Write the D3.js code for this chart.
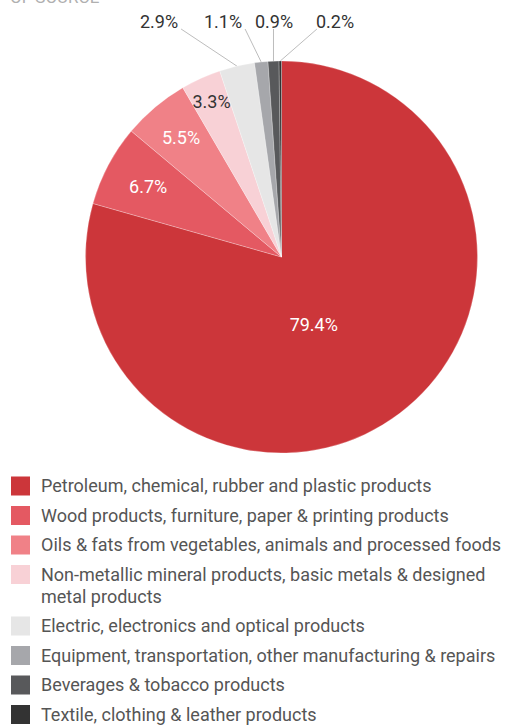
<!DOCTYPE html>
<html>
<head>
<meta charset="utf-8">
<script src="https://cdn.jsdelivr.net/npm/d3@7"></script>
<style>
  html, body { margin: 0; padding: 0; background: #fff; }
  svg { display: block; font-family: Roboto, "Noto Sans", sans-serif; }
</style>
</head>
<body>
<svg id="chart" width="510" height="725"></svg>
<script>
// ---- data ----
const categories = [
  "Petroleum, chemical, rubber and plastic products",
  "Wood products, furniture, paper & printing products",
  "Oils & fats from vegetables, animals and processed foods",
  "Non-metallic mineral products, basic metals & designed metal products",
  "Electric, electronics and optical products",
  "Equipment, transportation, other manufacturing & repairs",
  "Beverages & tobacco products",
  "Textile, clothing & leather products"
];
const values = [79.4, 6.7, 5.5, 3.3, 2.9, 1.1, 0.9, 0.2];
const colors = ["#cc363a", "#e45962", "#f08187", "#f8d1d6", "#e6e6e6", "#a6a7ab", "#58595b", "#333333"];
const titleText = "OF SOURCE";

// ---- layout / style ----
const svg = d3.select("#chart");
const W = 510;
const cx = 281.5, cy = 257, R = 196;
const fontSize = 18;

svg.append("text")
  .attr("x", 10).attr("y", 3)
  .attr("fill", "#b0b0b0")
  .attr("font-size", 17)
  .text(titleText);

const pie = d3.pie().sort(null).value(d => d);
const arcs = pie(values);
const arc = d3.arc().innerRadius(0).outerRadius(R);

const g = svg.append("g").attr("transform", `translate(${cx},${cy})`);
g.selectAll("path.slice")
  .data(arcs)
  .join("path")
  .attr("class", "slice")
  .attr("d", arc)
  .attr("fill", (d, i) => colors[i])
  .attr("stroke", "#ffffff")
  .attr("stroke-opacity", 0.5)
  .attr("stroke-width", 0.5);

// inside labels (first four slices)
const insideCfg = [
  { r: 0.383, da: 11.6, fill: "#ffffff" },
  { r: 0.77, da: 0, fill: "#ffffff" },
  { r: 0.795, da: 0, fill: "#ffffff" },
  { r: 0.868, da: 0, fill: "#333333" }
];
// outside labels (last four slices)
const outsideX = [159, 223, 274, 335];
const outsideY = 22;

const fmt = v => d3.format(".1f")(v) + "%";

arcs.forEach((d, i) => {
  const mid = (d.startAngle + d.endAngle) / 2;
  if (i < 4) {
    const c = insideCfg[i];
    const [x, y] = d3.pointRadial(mid + c.da * Math.PI / 180, R * c.r);
    g.append("text")
      .attr("x", x).attr("y", y)
      .attr("dy", "0.35em")
      .attr("text-anchor", "middle")
      .attr("font-size", fontSize)
      .attr("fill", c.fill)
      .text(fmt(values[i]));
  } else {
    const k = i - 4;
    const tx = outsideX[k];
    const t = svg.append("text")
      .attr("x", tx).attr("y", outsideY)
      .attr("dy", "0.35em")
      .attr("text-anchor", "middle")
      .attr("font-size", fontSize)
      .attr("fill", "#333333")
      .text(fmt(values[i]));
    const bb = t.node().getBBox();
    const [px, py] = d3.pointRadial(mid, R);
    const ax = cx + px, ay = cy + py;
    const lx = Math.max(bb.x + 1, Math.min(bb.x + bb.width + 3, ax));
    svg.insert("line", "g")
      .attr("x1", lx).attr("y1", 29)
      .attr("x2", ax).attr("y2", ay)
      .attr("stroke", "#bdbdbd")
      .attr("stroke-width", 1);
  }
});

// ---- legend ----
const legend = svg.append("g");
const lx0 = 11, sw = 19, tx0 = 41;
const lineH = 22, rowGap = 29.5;
let rowY = 486; // center of first line of row
const maxW = W - tx0 - 1;

categories.forEach((name, i) => {
  legend.append("rect")
    .attr("x", lx0).attr("y", rowY - sw / 2)
    .attr("width", sw).attr("height", sw)
    .attr("fill", colors[i]);
  const text = legend.append("text")
    .attr("x", tx0).attr("y", rowY)
    .attr("dy", "0.35em")
    .attr("font-size", fontSize)
    .attr("fill", "#555555");
  const words = name.split(" ");
  let line = [];
  let tspan = text.append("tspan").attr("x", tx0).attr("y", rowY).attr("dy", "0.35em");
  let nLines = 1;
  words.forEach(w => {
    line.push(w);
    tspan.text(line.join(" "));
    if (tspan.node().getComputedTextLength() > maxW && line.length > 1) {
      line.pop();
      tspan.text(line.join(" "));
      line = [w];
      tspan = text.append("tspan").attr("x", tx0)
        .attr("y", rowY + nLines * lineH).attr("dy", "0.35em").text(w);
      nLines++;
    }
  });
  rowY += (nLines - 1) * lineH + rowGap;
});
</script>
</body>
</html>
